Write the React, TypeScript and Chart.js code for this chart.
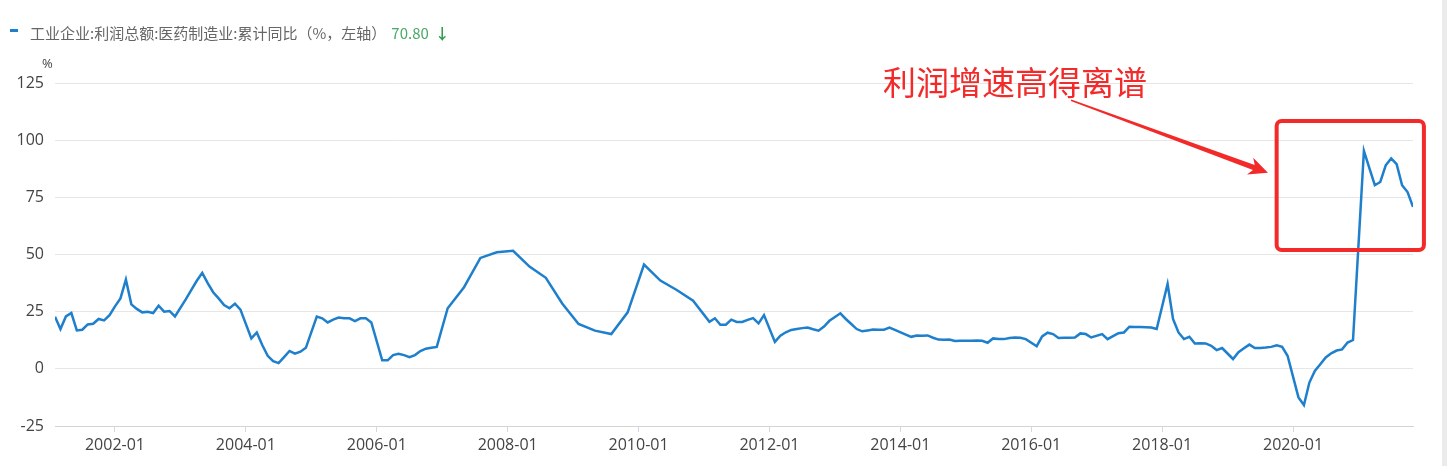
import React, { useEffect, useRef } from "react";
import { Chart, registerables } from "chart.js";

Chart.register(...registerables);

// 工业企业:利润总额:医药制造业:累计同比 (%)
const periods: string[] = [
  "2001-02", "2001-03", "2001-04", "2001-05", "2001-06", "2001-07", "2001-08", "2001-09", "2001-10", "2001-11", "2001-12",
  "2002-01", "2002-02", "2002-03", "2002-04", "2002-05", "2002-06", "2002-07", "2002-08", "2002-09", "2002-10", "2002-11", "2002-12",
  "2003-02", "2003-03", "2003-04", "2003-05", "2003-06", "2003-07", "2003-08", "2003-09", "2003-10", "2003-11", "2003-12",
  "2004-02", "2004-03", "2004-04", "2004-05", "2004-06", "2004-07", "2004-08", "2004-09", "2004-10", "2004-11", "2004-12",
  "2005-02", "2005-03", "2005-04", "2005-05", "2005-06", "2005-07", "2005-08", "2005-09", "2005-10", "2005-11", "2005-12",
  "2006-02", "2006-03", "2006-04", "2006-05", "2006-06", "2006-07", "2006-08", "2006-09", "2006-10", "2006-11", "2006-12",
  "2007-02", "2007-05", "2007-08", "2007-11",
  "2008-02", "2008-05", "2008-08", "2008-11",
  "2009-02", "2009-05", "2009-08", "2009-11",
  "2010-02", "2010-05", "2010-08", "2010-11",
  "2011-02", "2011-03", "2011-04", "2011-05", "2011-06", "2011-07", "2011-08", "2011-09", "2011-10", "2011-11", "2011-12",
  "2012-02", "2012-03", "2012-04", "2012-05", "2012-06", "2012-07", "2012-08", "2012-09", "2012-10", "2012-11", "2012-12",
  "2013-02", "2013-03", "2013-04", "2013-05", "2013-06", "2013-07", "2013-08", "2013-09", "2013-10", "2013-11", "2013-12",
  "2014-02", "2014-03", "2014-04", "2014-05", "2014-06", "2014-07", "2014-08", "2014-09", "2014-10", "2014-11", "2014-12",
  "2015-02", "2015-03", "2015-04", "2015-05", "2015-06", "2015-07", "2015-08", "2015-09", "2015-10", "2015-11", "2015-12",
  "2016-02", "2016-03", "2016-04", "2016-05", "2016-06", "2016-07", "2016-08", "2016-09", "2016-10", "2016-11", "2016-12",
  "2017-02", "2017-03", "2017-04", "2017-05", "2017-06", "2017-07", "2017-08", "2017-09", "2017-10", "2017-11", "2017-12",
  "2018-02", "2018-03", "2018-04", "2018-05", "2018-06", "2018-07", "2018-08", "2018-09", "2018-10", "2018-11", "2018-12",
  "2019-02", "2019-03", "2019-04", "2019-05", "2019-06", "2019-07", "2019-08", "2019-09", "2019-10", "2019-11", "2019-12",
  "2020-02", "2020-03", "2020-04", "2020-05", "2020-06", "2020-07", "2020-08", "2020-09", "2020-10", "2020-11", "2020-12",
  "2021-02", "2021-03", "2021-04", "2021-05", "2021-06", "2021-07", "2021-08", "2021-09", "2021-10", "2021-11",
];

const profitYoY: number[] = [
  22.8, 17.4, 22.9, 24.4, 16.8, 17.1, 19.4, 19.7, 21.8, 21.2, 23.5,
  27.3, 30.8, 39.0, 28.2, 26.2, 24.7, 25.0, 24.4, 27.6, 25.0, 25.3, 22.9,
  30.5, 34.5, 38.5, 42.0, 37.5, 33.5, 30.8, 27.9, 26.5, 28.5, 25.9,
  13.3, 15.9, 10.4, 5.7, 3.4, 2.5, 5.1, 7.8, 6.6, 7.5, 9.2,
  22.9, 22.1, 20.3, 21.5, 22.4, 22.1, 22.1, 20.9, 22.1, 22.1, 20.3,
  3.7, 3.7, 6.0, 6.6, 6.0, 5.1, 6.0, 7.8, 8.8, 9.2, 9.6,
  26.5, 35.7, 48.5, 51.0,
  51.6, 44.7, 39.8, 28.6,
  19.6, 16.7, 15.2, 24.7,
  45.6, 38.6, 34.5, 29.8,
  20.6, 22.1, 19.3, 19.3, 21.5, 20.5, 20.5, 21.4, 22.2, 19.9, 23.5,
  11.8, 14.5, 16.0, 17.0, 17.4, 17.8, 18.1, 17.3, 16.7, 18.5, 21.0,
  24.3, 21.8, 19.6, 17.4, 16.4, 16.8, 17.2, 17.1, 17.1, 18.0, 17.0,
  15.0, 14.0, 14.6, 14.5, 14.6, 13.6, 12.8, 12.7, 12.8, 12.2, 12.3,
  12.3, 12.4, 12.3, 11.4, 13.3, 13.0, 13.0, 13.5, 13.7, 13.6, 13.0,
  9.9, 14.2, 15.8, 15.2, 13.5, 13.6, 13.6, 13.7, 15.5, 15.2, 13.7,
  15.2, 13.0, 14.3, 15.6, 15.9, 18.4, 18.3, 18.3, 18.2, 18.1, 17.4,
  37.1, 21.8, 15.9, 13.0, 14.0, 11.1, 11.2, 11.1, 10.1, 8.2, 9.1,
  4.3, 7.3, 9.0, 10.6, 9.1, 9.1, 9.3, 9.6, 10.3, 9.6, 5.7,
  -12.5, -15.8, -6.0, -0.9, 2.0, 5.0, 6.8, 8.0, 8.5, 11.5, 12.6,
  95.3, 87.8, 80.3, 81.7, 89.0, 92.0, 89.5, 80.3, 77.3, 70.8,
];

const xTickLabels: string[] = [
  "2002-01", "2004-01", "2006-01", "2008-01", "2010-01",
  "2012-01", "2014-01", "2016-01", "2018-01", "2020-01",
];
const yTickValues: number[] = [-25, 0, 25, 50, 75, 100, 125];

const seriesName = "工业企业:利润总额:医药制造业:累计同比（%，左轴）";
const annotationText = "利润增速高得离谱";

// annotation geometry in data coordinates (month index, %)
const highlightBox = { x0: "2019-10", x0Offset: 0.0, x1: "2021-11", x1Offset: 2.0, yTop: 108.4, yBottom: 52.0 };
const arrowFrom = { period: "2016-08", offset: 0.3, value: 117.5 };
const arrowTo = { period: "2019-08", offset: 0.4, value: 85.8 };

const monthIndex = (p: string): number => {
  const [y, m] = p.split("-").map(Number);
  return (y - 2002) * 12 + (m - 1);
};

const LINE_BLUE = "#1e7fcc";
const RED = "#f22a2a";

const annotationPlugin = {
  id: "redAnnotation",
  afterDatasetsDraw(chart: any) {
    const { ctx } = chart;
    const xs = chart.scales.x;
    const ys = chart.scales.y;
    ctx.save();
    const bx0 = xs.getPixelForValue(monthIndex(highlightBox.x0) + highlightBox.x0Offset);
    const bx1 = xs.getPixelForValue(monthIndex(highlightBox.x1) + highlightBox.x1Offset);
    const by0 = ys.getPixelForValue(highlightBox.yTop);
    const by1 = ys.getPixelForValue(highlightBox.yBottom);
    ctx.strokeStyle = RED;
    ctx.lineWidth = 4;
    ctx.beginPath();
    if (ctx.roundRect) ctx.roundRect(bx0, by0, bx1 - bx0, by1 - by0, 5);
    else ctx.rect(bx0, by0, bx1 - bx0, by1 - by0);
    ctx.stroke();

    const sx = xs.getPixelForValue(monthIndex(arrowFrom.period) + arrowFrom.offset);
    const sy = ys.getPixelForValue(arrowFrom.value);
    const tx = xs.getPixelForValue(monthIndex(arrowTo.period) + arrowTo.offset);
    const ty = ys.getPixelForValue(arrowTo.value);
    const ang = Math.atan2(ty - sy, tx - sx);
    const len = Math.hypot(tx - sx, ty - sy);
    ctx.translate(sx, sy);
    ctx.rotate(ang);
    ctx.fillStyle = RED;
    ctx.beginPath();
    ctx.moveTo(0, -0.8);
    ctx.lineTo(len - 15, -2.6);
    ctx.lineTo(len - 19, -9);
    ctx.lineTo(len, 0);
    ctx.lineTo(len - 19, 9);
    ctx.lineTo(len - 15, 2.6);
    ctx.lineTo(0, 0.8);
    ctx.closePath();
    ctx.fill();
    ctx.restore();
  },
};

export default function App() {
  const canvasRef = useRef<HTMLCanvasElement | null>(null);

  useEffect(() => {
    if (!canvasRef.current) return;
    const points = periods.map((p, i) => ({ x: monthIndex(p), y: profitYoY[i] }));
    const tickFont = { family: "'Open Sans', 'Noto Sans CJK SC', sans-serif", size: 16 };
    const chart = new Chart(canvasRef.current, {
      type: "line",
      data: {
        datasets: [
          {
            label: seriesName,
            data: points,
            borderColor: LINE_BLUE,
            backgroundColor: LINE_BLUE,
            borderWidth: 2.5,
            pointRadius: 0,
            tension: 0,
            fill: false,
          },
        ],
      },
      options: {
        animation: false,
        responsive: false,
        devicePixelRatio: 1,
        layout: { padding: { left: 0, right: 34, top: 83, bottom: 0 } },
        plugins: { legend: { display: false }, tooltip: { enabled: false } },
        scales: {
          x: {
            type: "linear",
            min: monthIndex(periods[0]),
            max: monthIndex(periods[periods.length - 1]),
            afterBuildTicks: (s: any) => {
              s.ticks = xTickLabels.map((l) => ({ value: monthIndex(l) }));
            },
            afterFit: (s: any) => {
              s.height = 40;
            },
            ticks: {
              autoSkip: false,
              maxRotation: 0,
              color: "#444",
              font: tickFont,
              padding: 4,
              callback: (_v: any, i: number) => xTickLabels[i],
            },
            grid: { display: true, drawOnChartArea: false, drawTicks: true, tickLength: 6, color: "#cddae7" },
            border: { display: true, color: "#d4d4d4", width: 1 },
          },
          y: {
            min: -25,
            max: 125,
            afterBuildTicks: (s: any) => {
              s.ticks = yTickValues.map((v) => ({ value: v }));
            },
            afterFit: (s: any) => {
              s.width = 55;
            },
            ticks: { color: "#444", font: tickFont, padding: 11 },
            grid: { color: "#e6e6e6", drawTicks: false },
            border: { display: false },
          },
        },
      },
      plugins: [annotationPlugin],
    } as any);
    return () => chart.destroy();
  }, []);

  const last = profitYoY[profitYoY.length - 1];

  return (
    <div style={{ position: "absolute", left: 0, top: 0, width: 1447, height: 466, background: "#fff", overflow: "hidden" }}>
      <canvas ref={canvasRef} width={1447} height={466} style={{ position: "absolute", left: 0, top: 0, width: 1447, height: 466 }} />
      <div style={{ position: "absolute", left: 10, top: 29, width: 8, height: 3, background: LINE_BLUE }} />
      <div
        style={{
          position: "absolute",
          left: 30,
          top: 22,
          height: 22,
          lineHeight: "22px",
          fontSize: 15,
          fontFamily: "'Noto Sans CJK SC', 'Open Sans', sans-serif",
          color: "#666",
          whiteSpace: "nowrap",
        }}
      >
        <span>{seriesName}</span>
        <span style={{ color: "#4aa86a", marginLeft: 5 }}>{last.toFixed(2)}</span>
        <span style={{ color: "#2f9e4c", marginLeft: 6, fontWeight: 700 }}>↓</span>
      </div>
      <div
        style={{
          position: "absolute",
          left: 42,
          top: 55,
          fontSize: 13,
          lineHeight: "16px",
          fontFamily: "'Open Sans', sans-serif",
          color: "#444",
        }}
      >
        %
      </div>
      <div
        style={{
          position: "absolute",
          left: 883,
          top: 65,
          fontSize: 33,
          lineHeight: "33px",
          fontFamily: "'Noto Sans CJK SC', sans-serif",
          color: RED,
          whiteSpace: "nowrap",
        }}
      >
        {annotationText}
      </div>
      <div style={{ position: "absolute", left: 1442, top: 0, width: 5, height: 466, background: "#ebebeb" }} />
    </div>
  );
}
